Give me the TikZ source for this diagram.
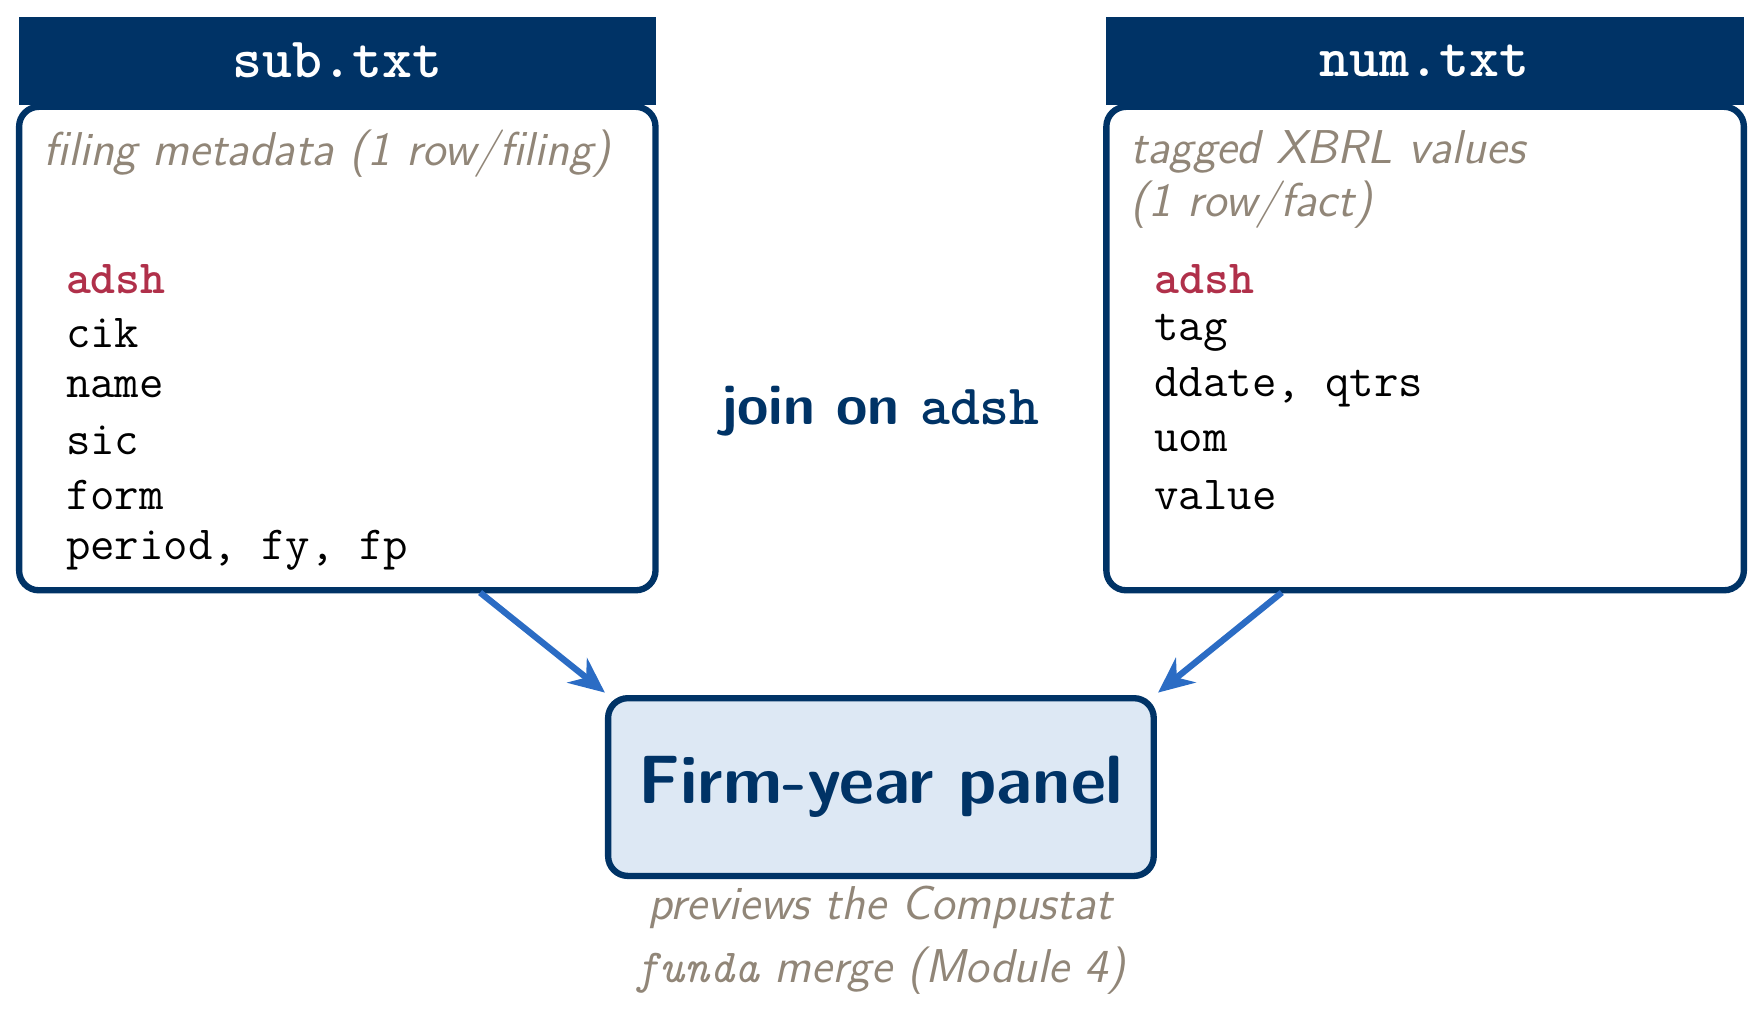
\documentclass[tikz,border=0pt]{standalone}
\usetikzlibrary{arrows.meta}
\definecolor{navy}{HTML}{003366}
\definecolor{note}{HTML}{918678}
\definecolor{keyred}{HTML}{B0304A}
\definecolor{arr}{HTML}{2B6CC4}
\definecolor{panel}{HTML}{DDE8F4}
\begin{document}
\begin{tikzpicture}[x=0.01cm,y=-0.01cm,
  hdr/.style={fill=navy,draw=none,text=white,font=\Large\ttfamily\bfseries},
  box/.style={draw=navy,line width=1.6pt,rounded corners=5pt},
  nt/.style={text=note,font=\large\sffamily\itshape,anchor=west,inner sep=0},
  fld/.style={font=\large\ttfamily,anchor=west,inner sep=0},
  key/.style={fld,text=keyred,font=\large\ttfamily\bfseries},
  conn/.style={draw=arr,line width=1.6pt,-{Stealth[length=9pt,width=8pt]}}]
\useasboundingbox (0,0) rectangle (1568,909);
% left
\fill[navy] (17,15) rectangle (583,93);
\node[hdr] (lh) at (300,54) {sub.txt};
\draw[box] (17,95) rectangle (583,525);
\coordinate (lb) at (427,527);
\node[nt] (ln) at (38,137) {filing metadata (1 row/filing)};
\node[key] (l1) at (58,248) {adsh};
\node[fld] (l2) at (58,296) {cik};
\node[fld] (l3) at (58,344) {name};
\node[fld] (l4) at (58,392) {sic};
\node[fld] (l5) at (58,440) {form};
\node[fld] (l6) at (58,489) {period, fy, fp};
% right
\fill[navy] (984,15) rectangle (1551,93);
\node[hdr] (rh) at (1267,54) {num.txt};
\draw[box] (984,95) rectangle (1551,525);
\coordinate (rb) at (1140,527);
\node[nt] (rn1) at (1005,135) {tagged XBRL values};
\node[nt] (rn2) at (1005,182) {(1 row/fact)};
\node[key] (r1) at (1026,248) {adsh};
\node[fld] (r2) at (1026,296) {tag};
\node[fld] (r3) at (1026,344) {ddate, qtrs};
\node[fld] (r4) at (1026,392) {uom};
\node[fld] (r5) at (1026,440) {value};
% join
\node[text=navy,font=\Large\sffamily\bfseries] (join) at (783,366) {join on \texttt{adsh}};
% panel
\node[box,fill=panel,minimum width=4.85cm,minimum height=1.58cm,text=navy,font=\LARGE\sffamily\bfseries] (p) at (783.5,700) {Firm-year panel};
\coordinate (pl) at (538,616);
\coordinate (pr) at (1030,616);
\draw[conn] (lb) -- (pl);
\draw[conn] (rb) -- (pr);
\node[text=note,font=\large\sffamily\itshape,align=center] (cap) at (783,836) {previews the Compustat\\[2pt]\texttt{funda} merge (Module 4)};
\end{tikzpicture}
\end{document}
